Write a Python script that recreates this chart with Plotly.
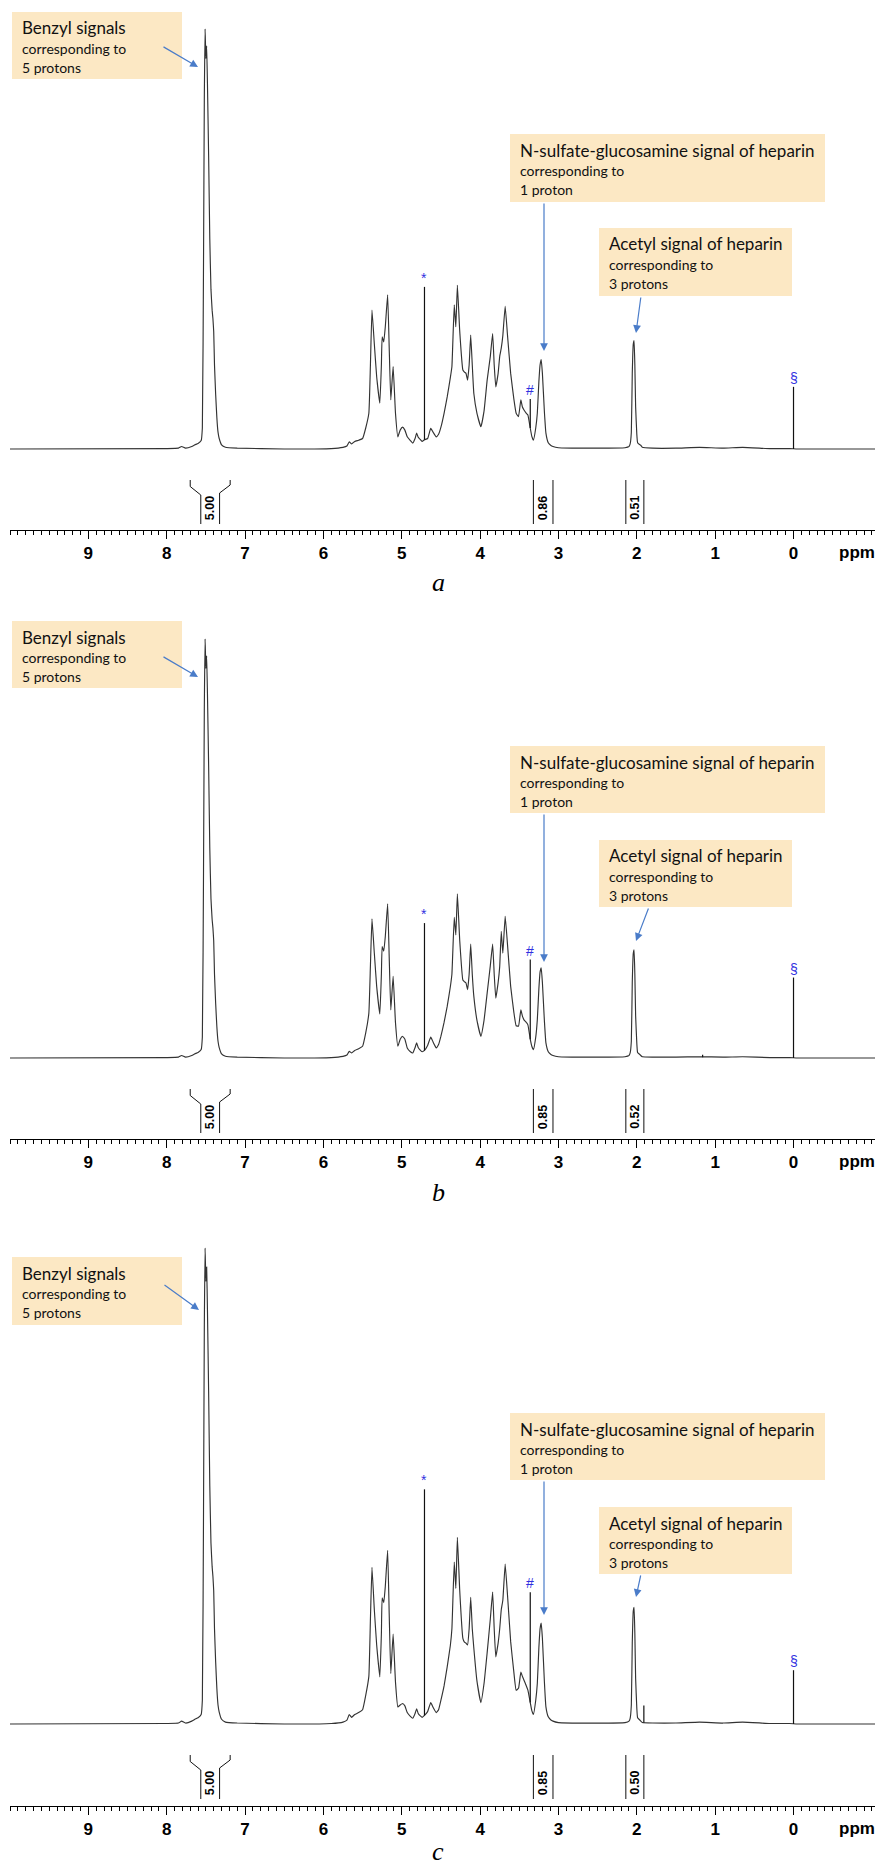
import plotly.graph_objects as go

W, H = 875, 1872

# ---------------- data ----------------
ppm = [10.0, 8.0, 7.85, 7.81, 7.76, 7.68, 7.64, 7.60, 7.56, 7.545, 7.53, 7.52, 7.51, 7.50, 7.49, 7.48,
       7.465, 7.45, 7.435, 7.42, 7.41, 7.40, 7.39, 7.375, 7.36, 7.345, 7.33, 7.30, 7.25,
       7.1, 6.5, 5.9, 5.75, 5.70, 5.67, 5.64, 5.60, 5.55, 5.50,
       5.46, 5.42, 5.40, 5.38, 5.35, 5.32, 5.28, 5.26, 5.25, 5.23, 5.21, 5.18, 5.16, 5.14, 5.11, 5.08, 5.05,
       5.02, 4.99, 4.96, 4.93, 4.89, 4.86, 4.83, 4.81, 4.79, 4.77, 4.74, 4.71, 4.67, 4.63, 4.60, 4.56, 4.53,
       4.50, 4.46, 4.42,
       4.38, 4.36, 4.33, 4.31, 4.29, 4.26, 4.22, 4.20, 4.18, 4.16, 4.14, 4.12, 4.10, 4.08, 4.04,
       3.99, 3.95, 3.91, 3.87, 3.84, 3.82, 3.80, 3.77, 3.75, 3.73, 3.71, 3.68, 3.65, 3.61,
       3.57, 3.54, 3.51, 3.48, 3.46, 3.44, 3.41, 3.39, 3.36, 3.34,
       3.32, 3.29, 3.27, 3.25, 3.235, 3.22, 3.205, 3.18, 3.16, 3.13, 3.10, 3.07, 3.0,
       2.5, 2.15, 2.10, 2.085, 2.07, 2.058, 2.045, 2.035, 2.025, 2.015, 2.0, 1.99, 1.96, 1.95, 1.93,
       1.8, 1.5, 1.2, 0.9, 0.65, 0.3, 0.05, -0.05, -1.05]

int_a = [0, 0.001, 0.002, 0.006, 0.002, 0.006, 0.010, 0.013, 0.02, 0.05, 0.45, 0.83, 1.0, 0.93, 0.96, 0.87,
         0.70, 0.50, 0.38, 0.33, 0.31, 0.28, 0.20, 0.13, 0.075, 0.04, 0.025, 0.01, 0.004,
         0.002, 0.0, 0.001, 0.004, 0.007, 0.017, 0.012, 0.018, 0.021, 0.025,
         0.05, 0.085, 0.20, 0.331, 0.25, 0.172, 0.109, 0.20, 0.267, 0.255, 0.291, 0.367, 0.24, 0.117, 0.196, 0.085, 0.029,
         0.045, 0.052, 0.045, 0.029, 0.02, 0.014, 0.025, 0.038, 0.028, 0.024, 0.018, 0.022, 0.025, 0.049, 0.04, 0.029, 0.035,
         0.052, 0.085, 0.124,
         0.17, 0.196, 0.343, 0.291, 0.390, 0.28, 0.188, 0.183, 0.180, 0.164, 0.2, 0.271, 0.2, 0.132, 0.085,
         0.053, 0.09, 0.164, 0.22, 0.275, 0.2, 0.148, 0.18, 0.22, 0.24, 0.27, 0.340, 0.27, 0.18,
         0.12, 0.085, 0.077, 0.117, 0.10, 0.093, 0.085, 0.081, 0.05, 0.03,
         0.021, 0.05, 0.085, 0.16, 0.20, 0.213, 0.18, 0.09, 0.038, 0.015, 0.009, 0.006, 0.003,
         0.002, 0.003, 0.006, 0.012, 0.04, 0.18, 0.25, 0.258, 0.2, 0.10, 0.035, 0.015, 0.01, 0.009, 0.004,
         0.002, 0.002, 0.004, 0.002, 0.004, 0.001, 0.001, 0.0, 0.0]

int_b = [0, 0.001, 0.002, 0.006, 0.002, 0.006, 0.010, 0.013, 0.02, 0.05, 0.45, 0.83, 1.0, 0.93, 0.96, 0.87,
         0.70, 0.50, 0.38, 0.33, 0.31, 0.28, 0.20, 0.13, 0.075, 0.04, 0.025, 0.01, 0.004,
         0.002, 0.0, 0.001, 0.004, 0.007, 0.016, 0.012, 0.018, 0.022, 0.028,
         0.06, 0.107, 0.22, 0.332, 0.25, 0.171, 0.105, 0.20, 0.266, 0.255, 0.29, 0.368, 0.24, 0.115, 0.195, 0.084, 0.028,
         0.045, 0.052, 0.045, 0.024, 0.015, 0.012, 0.025, 0.036, 0.025, 0.02, 0.015, 0.018, 0.03, 0.05, 0.038, 0.024, 0.032,
         0.052, 0.085, 0.123,
         0.17, 0.2, 0.336, 0.294, 0.392, 0.28, 0.186, 0.182, 0.179, 0.163, 0.2, 0.272, 0.2, 0.147, 0.09,
         0.052, 0.09, 0.155, 0.22, 0.272, 0.2, 0.143, 0.18, 0.218, 0.302, 0.25, 0.338, 0.27, 0.171,
         0.11, 0.077, 0.076, 0.115, 0.10, 0.091, 0.085, 0.079, 0.045, 0.028,
         0.020, 0.05, 0.091, 0.165, 0.205, 0.215, 0.18, 0.09, 0.036, 0.015, 0.009, 0.006, 0.003,
         0.002, 0.003, 0.006, 0.012, 0.04, 0.18, 0.25, 0.258, 0.2, 0.10, 0.035, 0.013, 0.008, 0.006, 0.003,
         0.002, 0.002, 0.003, 0.002, 0.003, 0.001, 0.001, 0.0, 0.0]

int_c = [0, 0.001, 0.002, 0.006, 0.002, 0.006, 0.010, 0.013, 0.02, 0.05, 0.45, 0.83, 1.0, 0.93, 0.96, 0.87,
         0.70, 0.50, 0.38, 0.33, 0.31, 0.28, 0.20, 0.13, 0.075, 0.04, 0.025, 0.01, 0.004,
         0.002, 0.0, 0.001, 0.004, 0.008, 0.02, 0.014, 0.02, 0.024, 0.03,
         0.06, 0.10, 0.22, 0.329, 0.24, 0.166, 0.099, 0.19, 0.265, 0.255, 0.289, 0.365, 0.23, 0.106, 0.189, 0.088, 0.036,
         0.04, 0.043, 0.038, 0.024, 0.016, 0.012, 0.022, 0.032, 0.022, 0.018, 0.014, 0.018, 0.026, 0.045, 0.035, 0.024, 0.03,
         0.05, 0.08, 0.12,
         0.165, 0.2, 0.34, 0.285, 0.392, 0.28, 0.18, 0.172, 0.17, 0.166, 0.2, 0.266, 0.2, 0.159, 0.09,
         0.045, 0.085, 0.15, 0.22, 0.277, 0.2, 0.141, 0.17, 0.2, 0.24, 0.26, 0.336, 0.27, 0.173,
         0.11, 0.071, 0.075, 0.109, 0.10, 0.092, 0.08, 0.071, 0.045, 0.028,
         0.02, 0.05, 0.085, 0.16, 0.20, 0.212, 0.18, 0.09, 0.036, 0.015, 0.009, 0.006, 0.003,
         0.002, 0.003, 0.006, 0.012, 0.04, 0.17, 0.238, 0.245, 0.19, 0.095, 0.033, 0.013, 0.008, 0.006, 0.003,
         0.002, 0.002, 0.004, 0.002, 0.004, 0.001, 0.001, 0.0, 0.0]

# sharp singlets drawn on top of the spectrum
spike_ppm_a = [4.71, 3.36, 0.0]
spike_base_a = [0.022, 0.05, 0.0]
spike_top_a = [0.386, 0.119, 0.148]
spike_sym_a = ["*", "#", "§"]

spike_ppm_b = [4.71, 3.36, 0.0, 1.16]
spike_base_b = [0.018, 0.045, 0.0, 0.002]
spike_top_b = [0.322, 0.235, 0.192, 0.008]
spike_sym_b = ["*", "#", "§", ""]

spike_ppm_c = [4.71, 3.36, 0.0, 1.91]
spike_base_c = [0.018, 0.045, 0.0, 0.003]
spike_top_c = [0.493, 0.277, 0.113, 0.039]
spike_sym_c = ["*", "#", "§", ""]

# integrations
int_from = [7.70, 3.32, 2.14]
int_to = [7.19, 3.07, 1.91]
int_vals_a = ["5.00", "0.86", "0.51"]
int_vals_b = ["5.00", "0.85", "0.52"]
int_vals_c = ["5.00", "0.85", "0.50"]

tick_vals = [9, 8, 7, 6, 5, 4, 3, 2, 1, 0]
tick_text = ["9", "8", "7", "6", "5", "4", "3", "2", "1", "0"]

box_titles = ["Benzyl signals", "N-sulfate-glucosamine signal of heparin", "Acetyl signal of heparin"]
box_line2 = ["corresponding to", "corresponding to", "corresponding to"]
box_line3 = ["5 protons", "1 proton", "3 protons"]
panel_letters = ["a", "b", "c"]

# ---------------- layout geometry (pixels) ----------------
panels = [
    dict(top=0, base=449, scale=420, axis=530, letter_y=582,
         spec=int_a, sp=spike_ppm_a, sb=spike_base_a, st=spike_top_a, ss=spike_sym_a, iv=int_vals_a,
         boxes=[(12, 12, 182, 79), (510, 134, 825, 202), (599, 228, 792, 296)],
         arrows=[((198, 67), (162, 46)), ((544, 351), (544, 202)), ((636, 333), (641, 296))]),
    dict(top=600, base=1058, scale=419, axis=1139, letter_y=1192,
         spec=int_b, sp=spike_ppm_b, sb=spike_base_b, st=spike_top_b, ss=spike_sym_b, iv=int_vals_b,
         boxes=[(12, 621, 182, 688), (510, 746, 825, 813), (599, 840, 792, 907)],
         arrows=[((198, 677), (162, 656)), ((544, 962), (544, 813)), ((636, 941), (649, 907))]),
    dict(top=1215, base=1724, scale=476, axis=1806, letter_y=1851,
         spec=int_c, sp=spike_ppm_c, sb=spike_base_c, st=spike_top_c, ss=spike_sym_c, iv=int_vals_c,
         boxes=[(12, 1257, 182, 1325), (510, 1413, 825, 1480), (599, 1507, 792, 1574)],
         arrows=[((199, 1310), (163, 1284)), ((544, 1615), (544, 1480)), ((636, 1597), (641, 1574))]),
]

BOX_FILL = "#FCE8C4"
ARROW = "#4A7CC9"
MARK = "#3030E0"
LINE = "#333333"

fig = go.Figure()
shapes = []
annotations = []
layout_axes = {}

for i, p in enumerate(panels):
    n = "" if i == 0 else str(i + 1)
    xa, ya = "x" + n, "y" + n
    sc = p["scale"]
    yr = [-(p["axis"] - p["base"]) / sc, (p["base"] - p["top"]) / sc]

    # spectrum
    fig.add_trace(go.Scatter(x=ppm, y=p["spec"], mode="lines",
                             line=dict(color=LINE, width=1.15, shape="spline", smoothing=0.35),
                             xaxis=xa, yaxis=ya, showlegend=False, hoverinfo="skip"))
    # spikes
    sx, sy = [], []
    for xv, b, t in zip(p["sp"], p["sb"], p["st"]):
        sx += [xv, xv, None]
        sy += [b, t, None]
    fig.add_trace(go.Scatter(x=sx, y=sy, mode="lines", line=dict(color="#111111", width=1.2),
                             xaxis=xa, yaxis=ya, showlegend=False, hoverinfo="skip"))
    for xv, t, s in zip(p["sp"], p["st"], p["ss"]):
        if s:
            annotations.append(dict(x=xv, y=t, xref=xa, yref=ya, text=s, showarrow=False,
                                    xanchor="center", yanchor="bottom", yshift=-1,
                                    font=dict(family="Liberation Sans", size=14, color=MARK)))

    # integration brackets (pixel offsets below baseline -> data units)
    o = lambda px: -px / sc
    neck = 0.24
    ix, iy = [], []
    for f, t, lab in zip(int_from, int_to, p["iv"]):
        mid = (f + t) / 2
        if f - t > neck + 0.05:
            ix += [f, f, mid + neck / 2, mid + neck / 2, None, t, t, mid - neck / 2, mid - neck / 2, None]
            iy += [o(31), o(37.5), o(46), o(75), None, o(31), o(36), o(44), o(75), None]
        else:
            ix += [f, f, None, t, t, None]
            iy += [o(31), o(75), None, o(31), o(75), None]
        annotations.append(dict(x=mid, y=o(59), xref=xa, yref=ya, text=lab, showarrow=False, textangle=-90,
                                xanchor="center", yanchor="middle",
                                font=dict(family="Liberation Sans", size=12.5, color="black", weight="bold")))
    fig.add_trace(go.Scatter(x=ix, y=iy, mode="lines", line=dict(color="#111111", width=1),
                             xaxis=xa, yaxis=ya, showlegend=False, hoverinfo="skip"))

    layout_axes["xaxis" + n] = dict(
        domain=[10 / W, 1], range=[10.0, -1.04], anchor=ya,
        showline=True, linecolor="black", linewidth=1, mirror=False,
        ticks="outside", ticklen=8, tickwidth=1, tickcolor="black",
        tickmode="array", tickvals=tick_vals, ticktext=tick_text,
        tickfont=dict(family="Liberation Sans", size=17, color="black", weight="bold"),
        minor=dict(ticks="outside", ticklen=4, tickwidth=1, tickcolor="black", dtick=0.1, tick0=0, showgrid=False),
        showgrid=False, zeroline=False, fixedrange=True)
    layout_axes["yaxis" + n] = dict(
        domain=[1 - p["axis"] / H, 1 - p["top"] / H], range=yr, anchor=xa, visible=False, fixedrange=True)

    # "ppm" unit label
    annotations.append(dict(x=857 / W, y=1 - (p["axis"] + 22) / H, xref="paper", yref="paper", text="ppm",
                            showarrow=False, xanchor="center", yanchor="middle",
                            font=dict(family="Liberation Sans", size=17, color="black", weight="bold")))
    # panel letter
    annotations.append(dict(x=438 / W, y=1 - p["letter_y"] / H, xref="paper", yref="paper", text=panel_letters[i],
                            showarrow=False, xanchor="center", yanchor="middle",
                            font=dict(family="Liberation Serif", size=26, color="black", style="italic")))

    # annotation boxes
    for (x0, y0, x1, y1), t1, t2, t3 in zip(p["boxes"], box_titles, box_line2, box_line3):
        shapes.append(dict(type="rect", xref="paper", yref="paper", x0=x0 / W, x1=x1 / W,
                           y0=1 - y1 / H, y1=1 - y0 / H, fillcolor=BOX_FILL, line=dict(width=0), layer="above"))
        for txt, off, size in [(t1, 16, 17), (t2, 36.5, 14), (t3, 55.5, 14)]:
            annotations.append(dict(x=(x0 + 8) / W, y=1 - (y0 + off) / H, xref="paper", yref="paper", text=txt,
                                    showarrow=False, xanchor="left", yanchor="middle",
                                    font=dict(family="Lato, Open Sans, sans-serif", size=size, color="#111111")))
    # arrows
    for (tip, tail) in p["arrows"]:
        annotations.append(dict(x=tip[0] / W, y=1 - tip[1] / H, xref="paper", yref="paper",
                                ax=tail[0] - tip[0], ay=tail[1] - tip[1], axref="pixel", ayref="pixel",
                                text="", showarrow=True, arrowhead=2, arrowsize=1.3, arrowwidth=1.2,
                                arrowcolor=ARROW, standoff=0, startstandoff=0))

fig.update_layout(width=W, height=H, margin=dict(l=0, r=0, t=0, b=0),
                  paper_bgcolor="white", plot_bgcolor="rgba(0,0,0,0)",
                  shapes=shapes, annotations=annotations, **layout_axes)

fig.write_html("out.html", config={"displayModeBar": False, "staticPlot": True},
               post_script="document.body.style.margin='0';document.body.style.padding='0';"
                           "document.documentElement.style.overflow='hidden';")
